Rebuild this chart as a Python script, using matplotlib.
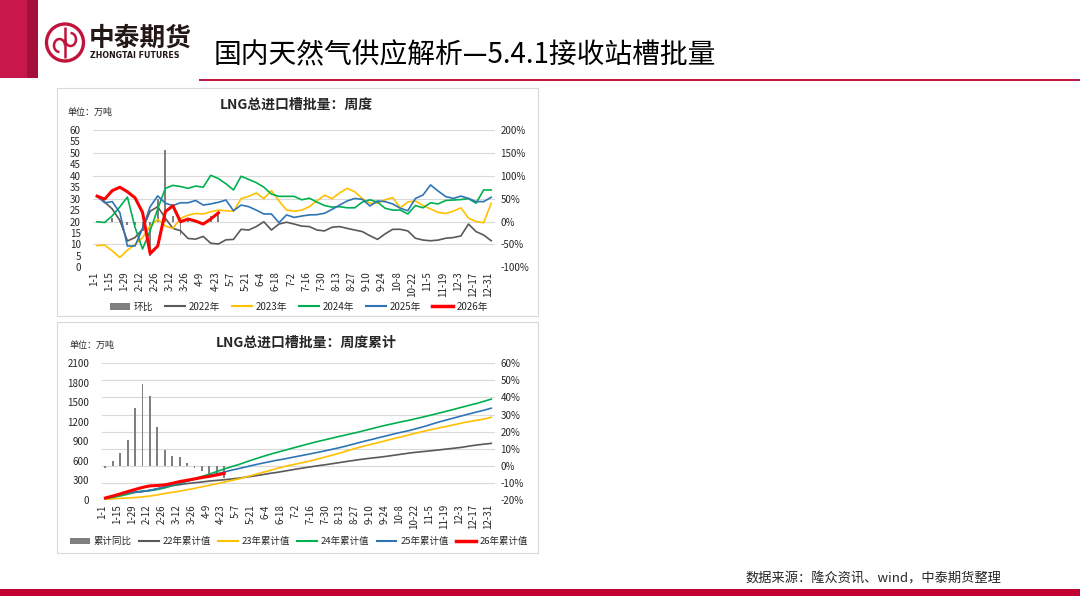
import numpy as np
import matplotlib
matplotlib.use('Agg')
import matplotlib.pyplot as plt
from matplotlib.patches import Rectangle, Circle, Arc, Patch
from matplotlib.lines import Line2D

plt.rcParams['font.family'] = ['Noto Sans CJK SC', 'DejaVu Sans']

# ---------------- data ----------------
tick_labels = ['1-1', '1-15', '1-29', '2-12', '2-26', '3-12', '3-26', '4-9', '4-23', '5-7',
               '5-21', '6-4', '6-18', '7-2', '7-16', '7-30', '8-13', '8-27', '9-10', '9-24',
               '10-8', '10-22', '11-5', '11-19', '12-3', '12-17', '12-31']

# weekly LNG truck imports (10k t)
w2022 = [31, 28.5, 25.5, 20.5, 11.5, 13, 16.7, 24.5, 26.5, 21.5, 17, 16, 12.6, 12.3, 13.5, 10.5,
         10.2, 12, 12.2, 16.6, 16.3, 17.8, 19.9, 16.3, 18.9, 19.7, 18.9, 18, 17.8, 16.3, 15.9,
         17.5, 17.8, 17, 16.3, 15.6, 13.8, 12.2, 14.6, 16.6, 16.6, 15.9, 12.7, 11.9, 11.6, 11.9,
         12.7, 13, 13.7, 18.9, 15.6, 14.1, 11.6]
w2023 = [9.5, 9.7, 7.2, 4.3, 7.5, 9.9, 13, 18, 21, 18, 17, 21.4, 22.8, 23.5, 23.3, 24.3, 25,
         24.7, 24.5, 30, 31, 32.5, 30, 33.5, 29, 25, 24.5, 25, 26.5, 29, 31.5, 30, 32.5, 34.5,
         33, 30, 28, 28, 29.5, 30.5, 26, 28.5, 29, 27, 25.5, 24, 23.5, 24.5, 26, 21.5, 20,
         19.5, 28]
w2024 = [19.9, 19.6, 22.5, 26.4, 30.7, 17.5, 8, 16, 25.5, 34.5, 35.8, 35.3, 34.5, 35.5, 35,
         40.2, 38.8, 36.5, 33.8, 39.8, 38.4, 37, 35, 32, 31, 31, 31, 29.5, 30.2, 28.5, 27,
         26.3, 26.5, 26, 26, 28.5, 29.5, 28.5, 25.8, 25, 25, 23.3, 27, 26, 28.2, 27.7, 29.2,
         29.4, 29.6, 30, 28, 33.8, 33.8]
w2025 = [31.1, 28.2, 28.7, 23.9, 9.3, 9.3, 17, 26.5, 31.2, 28, 27, 28.2, 28.2, 29.2, 27.2,
         27.7, 28.4, 29.4, 24.7, 27.2, 26.5, 25, 23.3, 23.3, 19.5, 22.9, 21.8, 22.4, 22.9, 23,
         23.6, 25.3, 27.2, 29, 30.1, 29.7, 26.8, 29, 28.7, 27.7, 25.8, 24.7, 30.1, 31.6, 36,
         33.3, 30.9, 30.1, 31.1, 30.1, 28.7, 28.7, 30.6]
w2026 = [31.1, 29.8, 33.5, 35, 33, 30.4, 24, 6, 9.3, 24.3, 26.9, 19.9, 21.1, 20.2, 18.9,
         21.1, 23.8]
wow2026 = [2, -4, 7, 4, -7, -8, -21, -75, 50, 157, 12, -30, 6, -4, -6, 12, 17]  # 环比 %

# cumulative (10k t)
c2022 = [31, 60, 85, 106, 117, 130, 147, 171, 198, 219, 236, 252, 265, 277, 291, 301, 311,
         323, 336, 352, 368, 386, 406, 422, 441, 461, 480, 498, 516, 532, 548, 565, 583, 600,
         617, 632, 646, 658, 673, 689, 706, 722, 735, 746, 758, 770, 783, 796, 809, 828, 844,
         858, 870]
c2023 = [10, 19, 26, 31, 38, 48, 61, 79, 100, 118, 135, 157, 179, 203, 226, 250, 275, 300,
         325, 355, 386, 418, 448, 482, 511, 536, 560, 585, 612, 641, 672, 702, 735, 769, 802,
         832, 860, 888, 918, 948, 974, 1003, 1032, 1059, 1084, 1108, 1132, 1156, 1182, 1204,
         1224, 1243, 1271]
c2024 = [20, 40, 62, 88, 119, 137, 145, 161, 186, 221, 256, 292, 326, 362, 397, 437, 476, 512,
         546, 586, 624, 661, 696, 728, 759, 790, 821, 851, 881, 909, 936, 963, 989, 1015, 1041,
         1070, 1099, 1128, 1154, 1179, 1204, 1227, 1254, 1280, 1308, 1336, 1365, 1394, 1424,
         1454, 1482, 1516, 1550]
c2025 = [31, 59, 88, 112, 121, 131, 148, 174, 205, 233, 260, 288, 317, 346, 373, 401, 429,
         459, 483, 510, 537, 562, 585, 609, 628, 651, 673, 695, 718, 741, 765, 790, 817, 846,
         876, 906, 933, 962, 990, 1018, 1044, 1069, 1099, 1130, 1166, 1200, 1231, 1261, 1292,
         1322, 1351, 1379, 1410]
c2026 = [31, 61, 94, 129, 162, 193, 217, 223, 232, 256, 283, 303, 324, 345, 363, 385, 408]
yoy2026 = [-1.4, 3.1, 7.4, 15.4, 33.8, 47.8, 41, 23, 9, 6, 5, 1.6, -1.2, -2.9, -4.7, -5.3, -7.2]  # 累计同比 %

# ---------------- styles ----------------
W, H = 1080, 608
C22, C23, C24, C25, C26 = '#595959', '#FFC000', '#00B050', '#2E75B6', '#FF0000'
CBAR = '#7F7F7F'
GRID = '#D9D9D9'
TXT = '#262626'
CRIMSON = '#C0143C'

fig = plt.figure(figsize=(W / 100, H / 100), dpi=100)
fig.patch.set_facecolor('white')
bg = fig.add_axes([0, 0, 1, 1], zorder=0)
bg.set_xlim(0, W)
bg.set_ylim(H, 0)
bg.axis('off')


def px_axes(l, t, r, b, z):
    ax = fig.add_axes([l / W, 1 - b / H, (r - l) / W, (b - t) / H], zorder=z)
    ax.patch.set_visible(False)
    for s in ax.spines.values():
        s.set_visible(False)
    return ax


# ---------------- header / footer ----------------
bg.add_patch(Rectangle((0, 0), 27, 78, color='#C8174B', lw=0))
bg.add_patch(Rectangle((27, 0), 11, 78, color='#A5103A', lw=0))
bg.add_patch(Circle((65, 42.5), 18.5, fill=False, lw=2.4, ec=CRIMSON))
bg.plot([65, 65], [27, 58], color=CRIMSON, lw=1.8, solid_capstyle='butt')
bg.add_patch(Arc((59.5, 45.5), 11, 13, theta1=90, theta2=360, lw=1.8, color=CRIMSON))
bg.add_patch(Arc((70.5, 39.5), 11, 13, theta1=270, theta2=180, lw=1.8, color=CRIMSON))
bg.text(89, 38, '中泰期货', fontsize=18.5, fontweight='bold', color='#231815', va='center', ha='left')
bg.text(90.5, 56, 'ZHONGTAI FUTURES', fontsize=5.7, fontweight='bold', color='#231815',
        va='center', ha='left', family=['DejaVu Sans'])
bg.text(214, 55, '国内天然气供应解析—5.4.1接收站槽批量', fontsize=20, color='black',
        va='center', ha='left', fontweight='medium')
bg.plot([200, 1080], [79.5, 79.5], color=CRIMSON, lw=1.4)

bg.text(1001, 578.5, '数据来源：隆众资讯、wind，中泰期货整理', fontsize=9.5, color=TXT,
        ha='right', va='center')
bg.add_patch(Rectangle((0, 589), W, 7, color='#C00030', lw=0))

# chart frames
bg.add_patch(Rectangle((57, 88), 481, 228, fill=False, ec='#D9D9D9', lw=0.8))
bg.add_patch(Rectangle((57, 322), 481, 231, fill=False, ec='#D9D9D9', lw=0.8))

x = np.arange(len(w2022))
xt = np.arange(0, len(w2022), 2) - 0.4


def setup_axes(axb, axl, ylim_r, yt_r, ylim_l, yt_l):
    axb.set_xlim(-0.5, 52.5)
    axl.set_xlim(-0.5, 52.5)
    axb.set_ylim(*ylim_r)
    axb.set_yticks(yt_r)
    axb.set_yticklabels([f'{v}%' for v in yt_r])
    axb.yaxis.tick_right()
    axb.set_xticks([])
    axb.tick_params(axis='y', length=0, labelsize=7, pad=4, colors=TXT)
    axb.grid(axis='y', color=GRID, lw=0.8)
    axb.set_axisbelow(True)
    axl.set_ylim(*ylim_l)
    axl.set_yticks(yt_l)
    axl.set_yticklabels([str(v) for v in yt_l])
    axl.tick_params(axis='y', length=0, labelsize=7, pad=9, colors=TXT)
    axl.set_xticks(xt)
    axl.set_xticklabels(tick_labels, rotation=90)
    axl.tick_params(axis='x', length=0, labelsize=7, pad=3, colors=TXT)


# ---------------- top chart ----------------
axb1 = px_axes(93.3, 130, 495, 267.3, 2)
axl1 = px_axes(93.3, 130, 495, 267.3, 3)
axb1.bar(x[:len(wow2026)], wow2026, width=0.25, color=CBAR, zorder=2)
setup_axes(axb1, axl1, (-100, 200), list(range(-100, 201, 50)), (0, 60), list(range(0, 61, 5)))
axl1.plot(x, w2022, color=C22, lw=1.2)
axl1.plot(x, w2023, color=C23, lw=1.2)
axl1.plot(x, w2024, color=C24, lw=1.2)
axl1.plot(x, w2025, color=C25, lw=1.2)
axl1.plot(x[:len(w2026)], w2026, color=C26, lw=2.2)

bg.text(296.5, 105, 'LNG总进口槽批量：周度', fontsize=10, fontweight='bold', color=TXT,
        ha='center', va='center')
bg.text(67, 112.5, '单位：万吨', fontsize=6.5, color=TXT, ha='left', va='center')

h1 = [Patch(facecolor=CBAR, edgecolor='none'),
      Line2D([], [], color=C22, lw=1.5), Line2D([], [], color=C23, lw=1.5),
      Line2D([], [], color=C24, lw=1.5), Line2D([], [], color=C25, lw=1.5),
      Line2D([], [], color=C26, lw=2.5)]
fig.legend(h1, ['环比', '2022年', '2023年', '2024年', '2025年', '2026年'], loc='center',
           bbox_to_anchor=(299 / W, 1 - 306.7 / H), ncol=6, frameon=False, fontsize=7,
           handlelength=2.1, handletextpad=0.4, columnspacing=1.15, labelcolor=TXT)

# ---------------- bottom chart ----------------
axb2 = px_axes(101.7, 363.3, 495, 500, 2)
axl2 = px_axes(101.7, 363.3, 495, 500, 3)
axb2.bar(x[:len(yoy2026)], yoy2026, width=0.25, color=CBAR, zorder=2)
setup_axes(axb2, axl2, (-20, 60), list(range(-20, 61, 10)), (0, 2100), list(range(0, 2101, 300)))
axl2.plot(x, c2022, color=C22, lw=1.2)
axl2.plot(x, c2023, color=C23, lw=1.2)
axl2.plot(x, c2024, color=C24, lw=1.2)
axl2.plot(x, c2025, color=C25, lw=1.2)
axl2.plot(x[:len(c2026)], c2026, color=C26, lw=2.2)

bg.text(306, 343, 'LNG总进口槽批量：周度累计', fontsize=10, fontweight='bold', color=TXT,
        ha='center', va='center')
bg.text(70, 345, '单位：万吨', fontsize=6.5, color=TXT, ha='left', va='center')

fig.legend(h1, ['累计同比', '22年累计值', '23年累计值', '24年累计值', '25年累计值', '26年累计值'],
           loc='center', bbox_to_anchor=(299 / W, 1 - 541.7 / H), ncol=6, frameon=False,
           fontsize=6.8, handlelength=2.1, handletextpad=0.4, columnspacing=0.75, labelcolor=TXT)

fig.savefig('out.png', dpi=100, facecolor='white')
